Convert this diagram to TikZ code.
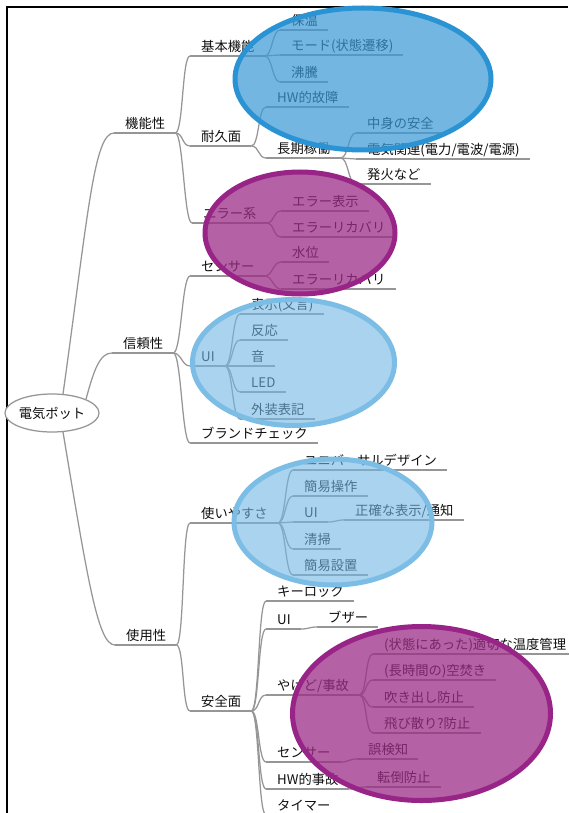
\documentclass[tikz,border=0pt]{standalone}
\usepackage{fontspec}
\newfontfamily\jp{Noto Sans CJK JP}
\usetikzlibrary{shapes.geometric}
\definecolor{linegray}{RGB}{150,150,150}
\definecolor{txtcol}{RGB}{15,15,15}
\definecolor{bluefill}{RGB}{59,153,215}
\definecolor{bluestroke}{RGB}{42,147,211}
\definecolor{purpfill}{RGB}{156,45,135}
\definecolor{purpstroke}{RGB}{152,36,135}
\definecolor{lbfill}{RGB}{113,182,227}
\definecolor{lbstroke}{RGB}{123,189,229}
\newcommand\lnk[2]{\draw[con] (#1.south east) .. controls +(8,0) and +(-8,0) .. (#2.south west);}
\begin{document}
\begin{tikzpicture}[x=1pt,y=-1pt,
  tx/.style={anchor=south west, inner xsep=0pt, inner ysep=4pt, text depth=0pt,
    font={\jp\fontsize{13.3}{16}\selectfont}, text=txtcol,
    execute at begin node={\hspace*{11pt}}, execute at end node={\hspace*{10pt}}},
  con/.style={draw=linegray, line width=1.25pt},
  rootnode/.style={ellipse, draw=linegray, line width=1.25pt, fill=white,
    minimum width=88pt, minimum height=38pt, inner sep=0pt,
    font={\jp\fontsize{13.3}{16}\selectfont}, text=txtcol},
  blob/.style={line width=5pt}
]
\useasboundingbox (0,0) rectangle (568,813);
\fill[white] (0,0) rectangle (568,813);
% frame
\draw[line width=2pt, black] (7,813) -- (7,7) -- (568,7);

% root
\node[rootnode] (root) at (52,413) {電気ポット};

% level 1
\node[tx] (k1) at (114,133) {機能性};
\node[tx] (k2) at (112,353) {信頼性};
\node[tx] (k3) at (115,645) {使用性};

% under 機能性
\node[tx] (a1) at (190,56) {基本機能};
\node[tx] (a2) at (190,146) {耐久面};
\node[tx] (a3) at (192,223) {エラー系};
\node[tx] (b1) at (280,30) {保温};
\node[tx] (b2) at (280,55) {モード(状態遷移)};
\node[tx] (b3) at (280,82) {沸騰};
\node[tx] (b4) at (266,107) {HW的故障};
\node[tx] (b5) at (266,158) {長期稼働};
\node[tx] (c1) at (356,133) {中身の安全};
\node[tx] (c2) at (356,159) {電気関連(電力/電波/電源)};
\node[tx] (c3) at (356,184) {発火など};
\node[tx] (b6) at (281,211) {エラー表示};
\node[tx] (b7) at (281,237) {エラーリカバリ};

% under 信頼性
\node[tx] (a4) at (190,276) {センサー};
\node[tx] (a5) at (190,366) {UI};
\node[tx] (a6) at (190,443) {ブランドチェック};
\node[tx] (b8) at (281,262) {水位};
\node[tx] (b9) at (281,289) {エラーリカバリ};
\node[tx] (b10) at (240,314) {表示(文言)};
\node[tx] (b11) at (240,340) {反応};
\node[tx] (b12) at (240,366) {音};
\node[tx] (b13) at (240,392) {LED};
\node[tx] (b14) at (240,419) {外装表記};

% under 使用性
\node[tx] (a7) at (190,523) {使いやすさ};
\node[tx] (a8) at (190,711) {安全面};
\node[tx] (d1) at (293,470) {ユニバーサルデザイン};
\node[tx] (d2) at (293,496) {簡易操作};
\node[tx] (d3) at (293,522) {UI};
\node[tx] (d4) at (293,549) {清掃};
\node[tx] (d5) at (293,575) {簡易設置};
\node[tx] (e1) at (344,520) {正確な表示/通知};
\node[tx] (f1) at (266,601) {キーロック};
\node[tx] (f2) at (266,629) {UI};
\node[tx] (f3) at (266,695) {やけど/事故};
\node[tx] (f4) at (266,762) {センサー};
\node[tx] (f5) at (266,789) {HW的事故};
\node[tx] (f6) at (266,815) {タイマー};
\node[tx] (g1) at (317,627) {ブザー};
\node[tx] (h1) at (373,654) {(状態にあった)適切な温度管理};
\node[tx] (h2) at (373,680) {(長時間の)空焚き};
\node[tx] (h3) at (373,707) {吹き出し防止};
\node[tx] (h4) at (373,733) {飛び散り?防止};
\node[tx] (g2) at (357,759) {誤検知};
\node[tx] (g3) at (366,787) {転倒防止};

% underlines
\foreach \n in {k1,k2,k3,a1,a2,a3,a4,a5,a6,a7,a8,b1,b2,b3,b4,b5,b6,b7,b8,b9,b10,b11,b12,b13,b14,
  c1,c2,c3,d1,d2,d3,d4,d5,e1,f1,f2,f3,f4,f5,f6,g1,g2,g3,h1,h2,h3,h4}
  \draw[con] (\n.south west) -- (\n.south east);

% root connectors
\draw[con] (root.60) .. controls +(25,-180) and +(-20,0) .. (k1.south west);
\draw[con] (root.22) .. controls +(8,-30) and +(-12,0) .. (k2.south west);
\draw[con] (root.-60) .. controls +(25,150) and +(-17,0) .. (k3.south west);

% tree connectors
\lnk{k1}{a1}\lnk{k1}{a2}\lnk{k1}{a3}
\lnk{a1}{b1}\lnk{a1}{b2}\lnk{a1}{b3}
\lnk{a2}{b4}\lnk{a2}{b5}
\lnk{b5}{c1}\lnk{b5}{c2}\lnk{b5}{c3}
\lnk{a3}{b6}\lnk{a3}{b7}
\lnk{k2}{a4}\lnk{k2}{a5}\lnk{k2}{a6}
\lnk{a4}{b8}\lnk{a4}{b9}
\lnk{a5}{b10}\lnk{a5}{b11}\lnk{a5}{b12}\lnk{a5}{b13}\lnk{a5}{b14}
\lnk{k3}{a7}\lnk{k3}{a8}
\lnk{a7}{d1}\lnk{a7}{d2}\lnk{a7}{d3}\lnk{a7}{d4}\lnk{a7}{d5}
\lnk{d3}{e1}
\lnk{a8}{f1}\lnk{a8}{f2}\lnk{a8}{f3}\lnk{a8}{f4}\lnk{a8}{f5}\lnk{a8}{f6}
\lnk{f2}{g1}
\lnk{f3}{h1}\lnk{f3}{h2}\lnk{f3}{h3}\lnk{f3}{h4}
\lnk{f4}{g2}\lnk{f5}{g3}

% highlight ellipses
\fill[bluefill, fill opacity=0.71] (363,79) ellipse [x radius=128, y radius=71];
\draw[blob, bluestroke] (363,79) ellipse [x radius=128, y radius=71];
\fill[purpfill, fill opacity=0.75] (300,233) ellipse [x radius=95, y radius=61];
\draw[blob, purpstroke] (300,233) ellipse [x radius=95, y radius=61];
\fill[lbfill, fill opacity=0.6] (293.5,362.5) ellipse [x radius=101, y radius=63];
\draw[blob, lbstroke] (293.5,362.5) ellipse [x radius=101, y radius=63];
\fill[lbfill, fill opacity=0.6] (333,522) ellipse [x radius=99, y radius=63];
\draw[blob, lbstroke] (333,522) ellipse [x radius=99, y radius=63];
\fill[purpfill, fill opacity=0.75] (421.5,713.5) ellipse [x radius=129, y radius=87];
\draw[blob, purpstroke] (421.5,713.5) ellipse [x radius=129, y radius=87];
\end{tikzpicture}
\end{document}
